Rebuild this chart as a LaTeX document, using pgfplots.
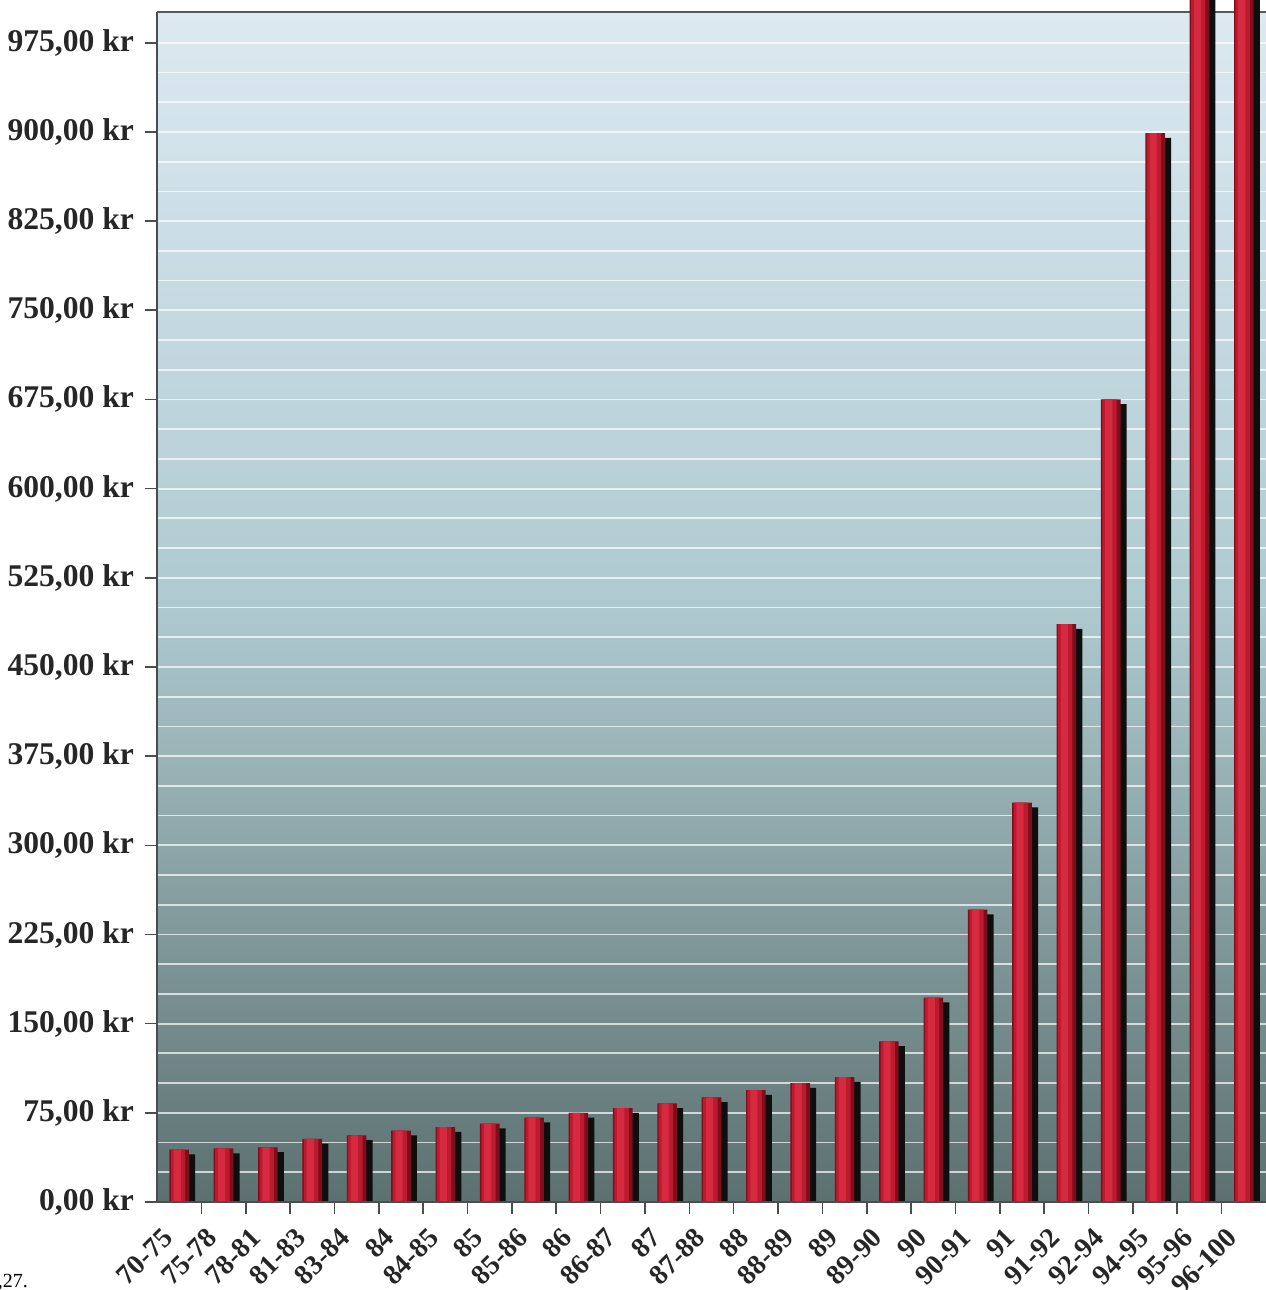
\documentclass[border=0pt]{standalone}
\usepackage{pgfplots}
\pgfplotsset{compat=1.18}
\usepackage{pgfplotstable}
\usepackage{fontspec}
\setmainfont{Liberation Serif}
\usetikzlibrary{calc}
\definecolor{bgtop}{HTML}{DCE9F1}
\definecolor{bgmid}{HTML}{AECACF}
\definecolor{bgbot}{HTML}{5C7070}
\definecolor{barlight}{HTML}{D62A40}
\definecolor{barmid}{HTML}{BC1A2F}
\definecolor{baredge}{HTML}{7E0E1B}
\definecolor{shadow}{HTML}{0E0E0E}

\pgfplotstableread{
x v s
0 44 40
1 45 41
2 46 42
3 53 49
4 56 52
5 60 56
6 63 59
7 66 62
8 71 67
9 75 71
10 79 75
11 83 79
12 88 84
13 94 90
14 100 96
15 105 101
16 135 131
17 172 168
18 246 242
19 336 332
20 486 482
21 675 671
22 899 895
23 1100 1096
24 1100 1096
}\data

\begin{document}
\begin{tikzpicture}
\begin{axis}[
  name=ax,
  set layers=standard,
  clip mode=individual,
  scale only axis,
  width=554.5pt, height=601pt,
  xmin=-0.5, xmax=24.5, ymin=0, ymax=1011,
  axis line style={draw=none},
  tick pos=left,
  tick align=outside,
  /pgf/number format/assume math mode=true,
  xtick={0.5,1.5,...,23.5},
  xticklabels={},
  extra x ticks={0,...,24},
  extra x tick labels={70-75,75-78,78-81,81-83,83-84,84,84-85,85,85-86,86,86-87,87,87-88,88,88-89,89,89-90,90,90-91,91,91-92,92-94,94-95,95-96,96-100},
  extra x tick style={major tick length=0pt,
     xticklabel style={rotate=45, anchor=east, inner sep=1pt, xshift=-14pt, yshift=-7pt,
       font=\fontsize{14}{16}\selectfont\bfseries, text=black!85}},
  ytick={0,75,...,975},
  yticklabel={\pgfmathprintnumber[fixed,fixed zerofill,precision=2,use comma]{\tick}~kr},
  yticklabel style={font=\fontsize{15.8}{18}\selectfont\bfseries, text=black!85, xshift=-2pt},
  minor y tick num=2,
  ymajorgrids, yminorgrids,
  major grid style={white, line width=0.9pt, opacity=0.7},
  minor grid style={white, line width=0.9pt, opacity=0.7},
  minor tick length=0pt,
  major tick length=6pt,
  tick style={gray!60!black, line width=0.8pt},
]
\begin{pgfonlayer}{axis background}
\fill[top color=bgtop, bottom color=bgbot, middle color=bgmid] (axis cs:-0.5,0) rectangle (axis cs:24.5,1001);
\draw[gray!70!black, line width=0.8pt] (axis cs:-0.5,1001) -- (axis cs:24.5,1001);
\end{pgfonlayer}
\addplot[ybar, bar width=10pt, bar shift=3pt, fill=shadow, draw=none] table[x=x,y=s]{\data};
\addplot[ybar, bar width=9.8pt, bar shift=0pt, fill=baredge, draw=none] table[x=x,y=v]{\data};
\addplot[ybar, bar width=7.2pt, bar shift=-0.6pt, fill=barmid, draw=none] table[x=x,y=v]{\data};
\addplot[ybar, bar width=3.6pt, bar shift=-1pt, fill=barlight, draw=none] table[x=x,y=v]{\data};
\draw[gray!60!black, line width=0.8pt] (axis cs:-0.5,1001) -- (axis cs:-0.5,0) -- (axis cs:24.5,0);
\end{axis}
\node[anchor=base east, font=\fontsize{10}{12}\selectfont] at ($(ax.south west)+(-61pt,-42.5pt)$) {5,27.};
\pgfresetboundingbox
\path ($(ax.south west)+(-78.5pt,-44pt)$) rectangle (ax.north east);
\end{tikzpicture}
\end{document}
